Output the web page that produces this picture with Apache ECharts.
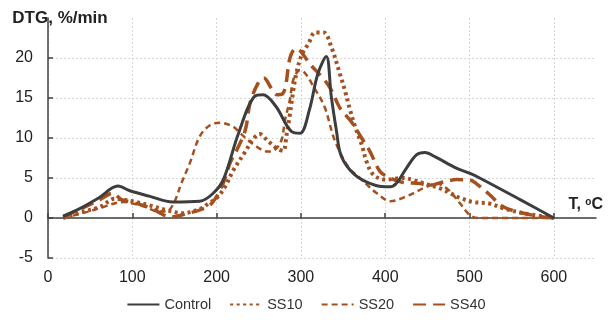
<!DOCTYPE html>
<html><head><meta charset="utf-8">
<script src="https://cdn.jsdelivr.net/npm/echarts@6/dist/echarts.min.js"></script>
<style>html,body{margin:0;padding:0;background:#fff}#c{width:612px;height:324px}</style>
</head><body><div id="c"></div>
<script>
const seriesNames = ['Control', 'SS10', 'SS20', 'SS40'];
const xTicks = [0, 100, 200, 300, 400, 500, 600];
const yTicks = [-5, 0, 5, 10, 15, 20];

const control = [[18,0.2],[40,1.3],[60,2.5],[83,4.0],[97,3.4],[121,2.7],[148,2.0],[180,2.1],[195,3.0],[208,4.8],[226,10.6],[245,15.2],[255,15.4],[270,14.0],[289,10.8],[299,10.6],[310,13.5],[320,18],[330,20.2],[336,15.2],[342,11],[348,7.7],[364,5.4],[388,4.1],[406,3.9],[413,4.3],[425,6.2],[437,7.9],[447,8.2],[460,7.6],[485,6.2],[500,5.6],[512,5.0],[560,2.3],[600,0]];
const ss10 = [[18,0],[42,0.8],[62,1.4],[79,2.4],[100,2.1],[120,1.6],[140,1.0],[160,0.6],[182,1.2],[190,1.8],[200,2.5],[210,3.9],[220,6],[234,8.3],[243,9.8],[251,10.5],[261,9.6],[273,8.6],[279,8.4],[283,10.4],[287,13],[291,16],[295,18.3],[301,20.4],[309,21.8],[317,23.2],[327,23.2],[336,21.4],[346,18.1],[352,16],[358,13.6],[364,11.5],[372,9.2],[378,7],[386,5.4],[400,4.8],[421,5.0],[433,4.75],[450,4.2],[465,3.7],[477,3.1],[489,2.5],[504,2.0],[524,1.8],[540,1.2],[564,0.6],[600,0]];
const ss20 = [[18,0],[48,0.8],[60,1.2],[90,2.0],[101,1.8],[115,1.4],[131,0.8],[140,0.8],[149,1.8],[158,4.3],[168,6.8],[180,10.2],[192,11.6],[204,11.9],[220,11.4],[228,10.6],[245,9.1],[261,8.3],[269,8.5],[277,9.75],[281,12.2],[287,14.8],[291,17.3],[299,18.5],[305,18.1],[315,16.4],[328,13.9],[340,9.75],[356,6.4],[370,5.0],[380,4.0],[390,3.1],[406,2.1],[425,2.7],[449,3.9],[461,4.3],[475,3.5],[489,1.8],[500,0.4],[510,0],[600,0]];
const ss40 = [[18,0.2],[40,1.2],[60,2.2],[77,3.1],[87,2.3],[99,2.0],[123,1.2],[135,0.5],[145,0.1],[166,0.6],[180,1.0],[194,1.8],[208,4.4],[216,6.9],[224,8.5],[234,11],[240,14.5],[250,17],[256,17.5],[265,16.2],[272,15.4],[278,15.5],[282,16.6],[287,20],[294,21.2],[300,20.8],[311,19.2],[326,17.5],[336,16],[346,13.8],[360,12],[372,10],[382,8.3],[394,5.8],[406,5.0],[419,4.5],[441,4.3],[453,4.1],[469,4.5],[485,4.8],[500,4.75],[508,4.3],[524,2.9],[540,1.4],[564,0.6],[583,0.2],[600,0]];

const dataSets = [control, ss10, ss20, ss40];
const brown = '#A4501F';
const styles = [
  {color:'#3d3d3d', width:3, type:'solid'},
  {color:brown, width:4, type:[3,3.5]},
  {color:brown, width:2.5, type:[6,4]},
  {color:brown, width:3.5, type:[13,7]}
];

const chart = echarts.init(document.getElementById('c'), null, {renderer:'canvas'});
const font = '"Liberation Sans", Arial, sans-serif';
chart.setOption({
  animation:false,
  textStyle:{fontFamily:font},
  grid:{left:48, right:16, top:18, bottom:66},
  legend:{
    bottom:7, left:'center', itemWidth:32, itemHeight:10, itemGap:18,
    itemStyle:{opacity:0},
    textStyle:{fontSize:14.5, color:'#333', fontFamily:font},
    data:seriesNames
  },
  xAxis:{
    type:'value', min:0, max:650, interval:100,
    name:'T, {s|o}C', nameLocation:'end', nameGap:7,
    nameTextStyle:{fontSize:16, fontWeight:'bold', color:'#222', align:'right', verticalAlign:'bottom', padding:[0,0,5,0],
      rich:{s:{fontSize:10, fontWeight:'bold', color:'#222', verticalAlign:'top', padding:[0,0,6,0]}}},
    axisLine:{lineStyle:{color:'#404040', width:1.5}},
    axisTick:{inside:true, length:5, lineStyle:{color:'#404040', width:1.5}, customValues: xTicks},
    axisLabel:{fontSize:16, color:'#222', margin:12, customValues: xTicks},
    splitLine:{show:true, lineStyle:{color:'#d6d6d6', type:[2,2], width:1}}
  },
  yAxis:{
    type:'value', min:-5, max:25, interval:5,
    name:'DTG, %/min', nameLocation:'end', nameGap:0,
    nameTextStyle:{fontSize:17, fontWeight:'bold', color:'#222', align:'center', verticalAlign:'middle', padding:[0,0,0,24]},
    axisLine:{show:true, lineStyle:{color:'#404040', width:1.5}},
    axisTick:{show:true, inside:true, length:5, lineStyle:{color:'#404040', width:1.5}, customValues: yTicks},
    axisLabel:{fontSize:16, color:'#222', margin:15, customValues: yTicks},
    splitLine:{show:true, lineStyle:{color:'#d6d6d6', type:[2,2], width:1}}
  },
  series: dataSets.map((d,i)=>({
    name:seriesNames[i], type:'line', data:d, smooth:0.35, symbol:'none',
    lineStyle:{color:styles[i].color, width:styles[i].width, type:styles[i].type},
    itemStyle:{color:styles[i].color}, z: 10 - i
  }))
});
</script></body></html>
